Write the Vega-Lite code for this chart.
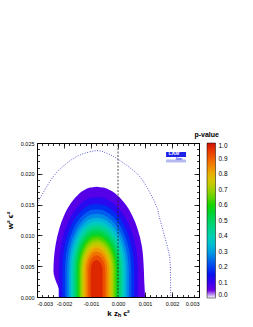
{
  "$schema": "https://vega.github.io/schema/vega-lite/v6.json",
  "width": 162,
  "height": 154,
  "autosize": {"type": "none"},
  "padding": {"left": 37, "top": 143, "right": 54, "bottom": 30},
  "background": "white",
  "config": {
    "view": {"stroke": "#000", "strokeWidth": 1},
    "axis": {"grid": false, "domain": false, "tickColor": "#000", "labelColor": "#000", "labelFont": "Liberation Sans", "labelFontSize": 5.5, "titleFont": "Liberation Sans", "titleColor": "#000", "zindex": 1, "tickWidth": 0.8}
  },
  "datasets": {
    "contours": [
      {"l": "0.05", "c": 0.075, "y": 0, "a": -0.00215, "b": 0.001},
      {"l": "0.05", "c": 0.075, "y": 0.0012, "a": -0.00218, "b": 0.00099},
      {"l": "0.05", "c": 0.075, "y": 0.0028, "a": -0.00232, "b": 0.00097},
      {"l": "0.05", "c": 0.075, "y": 0.0042, "a": -0.00239, "b": 0.00096},
      {"l": "0.05", "c": 0.075, "y": 0.008311, "a": -0.002317, "b": 0.000881},
      {"l": "0.05", "c": 0.075, "y": 0.011052, "a": -0.002177, "b": 0.000726},
      {"l": "0.05", "c": 0.075, "y": 0.013107, "a": -0.002009, "b": 0.000539},
      {"l": "0.05", "c": 0.075, "y": 0.015162, "a": -0.001754, "b": 0.000257},
      {"l": "0.05", "c": 0.075, "y": 0.016533, "a": -0.001493, "b": -0.000032},
      {"l": "0.05", "c": 0.075, "y": 0.017355, "a": -0.001245, "b": -0.000307},
      {"l": "0.05", "c": 0.075, "y": 0.017766, "a": -0.001024, "b": -0.000552},
      {"l": "0.05", "c": 0.075, "y": 0.017903, "a": -0.0008, "b": -0.0008},

      {"l": "0.10", "c": 0.125, "y": 0, "a": -0.002195, "b": 0.000745},
      {"l": "0.10", "c": 0.125, "y": 0.0042, "a": -0.002195, "b": 0.000745},
      {"l": "0.10", "c": 0.125, "y": 0.007805, "a": -0.002131, "b": 0.000674},
      {"l": "0.10", "c": 0.125, "y": 0.010209, "a": -0.002008, "b": 0.000538},
      {"l": "0.10", "c": 0.125, "y": 0.012012, "a": -0.00186, "b": 0.000374},
      {"l": "0.10", "c": 0.125, "y": 0.013814, "a": -0.001637, "b": 0.000127},
      {"l": "0.10", "c": 0.125, "y": 0.015016, "a": -0.001408, "b": -0.000126},
      {"l": "0.10", "c": 0.125, "y": 0.015737, "a": -0.001191, "b": -0.000367},
      {"l": "0.10", "c": 0.125, "y": 0.016098, "a": -0.000997, "b": -0.000582},
      {"l": "0.10", "c": 0.125, "y": 0.016218, "a": -0.0008, "b": -0.0008},

      {"l": "0.15", "c": 0.175, "y": 0, "a": -0.002066, "b": 0.000603},
      {"l": "0.15", "c": 0.175, "y": 0.0042, "a": -0.002066, "b": 0.000603},
      {"l": "0.15", "c": 0.175, "y": 0.007473, "a": -0.002008, "b": 0.000538},
      {"l": "0.15", "c": 0.175, "y": 0.009655, "a": -0.001897, "b": 0.000415},
      {"l": "0.15", "c": 0.175, "y": 0.011291, "a": -0.001762, "b": 0.000266},
      {"l": "0.15", "c": 0.175, "y": 0.012927, "a": -0.00156, "b": 0.000042},
      {"l": "0.15", "c": 0.175, "y": 0.014018, "a": -0.001352, "b": -0.000188},
      {"l": "0.15", "c": 0.175, "y": 0.014673, "a": -0.001155, "b": -0.000407},
      {"l": "0.15", "c": 0.175, "y": 0.015, "a": -0.000979, "b": -0.000602},
      {"l": "0.15", "c": 0.175, "y": 0.015109, "a": -0.0008, "b": -0.0008},

      {"l": "0.20", "c": 0.225, "y": 0, "a": -0.001966, "b": 0.000492},
      {"l": "0.20", "c": 0.225, "y": 0.0042, "a": -0.001966, "b": 0.000492},
      {"l": "0.20", "c": 0.225, "y": 0.007214, "a": -0.001912, "b": 0.000432},
      {"l": "0.20", "c": 0.225, "y": 0.009223, "a": -0.00181, "b": 0.000319},
      {"l": "0.20", "c": 0.225, "y": 0.01073, "a": -0.001686, "b": 0.000182},
      {"l": "0.20", "c": 0.225, "y": 0.012237, "a": -0.0015, "b": -0.000025},
      {"l": "0.20", "c": 0.225, "y": 0.013241, "a": -0.001308, "b": -0.000237},
      {"l": "0.20", "c": 0.225, "y": 0.013844, "a": -0.001127, "b": -0.000438},
      {"l": "0.20", "c": 0.225, "y": 0.014146, "a": -0.000964, "b": -0.000618},
      {"l": "0.20", "c": 0.225, "y": 0.014246, "a": -0.0008, "b": -0.0008},

      {"l": "0.25", "c": 0.275, "y": 0, "a": -0.001882, "b": 0.000399},
      {"l": "0.25", "c": 0.275, "y": 0.0042, "a": -0.001882, "b": 0.000399},
      {"l": "0.25", "c": 0.275, "y": 0.006997, "a": -0.001833, "b": 0.000344},
      {"l": "0.25", "c": 0.275, "y": 0.008862, "a": -0.001737, "b": 0.000238},
      {"l": "0.25", "c": 0.275, "y": 0.010261, "a": -0.001623, "b": 0.000111},
      {"l": "0.25", "c": 0.275, "y": 0.011659, "a": -0.001449, "b": -0.000081},
      {"l": "0.25", "c": 0.275, "y": 0.012592, "a": -0.001272, "b": -0.000277},
      {"l": "0.25", "c": 0.275, "y": 0.013151, "a": -0.001103, "b": -0.000464},
      {"l": "0.25", "c": 0.275, "y": 0.013431, "a": -0.000953, "b": -0.000631},
      {"l": "0.25", "c": 0.275, "y": 0.013524, "a": -0.0008, "b": -0.0008},

      {"l": "0.30", "c": 0.325, "y": 0, "a": -0.001809, "b": 0.000317},
      {"l": "0.30", "c": 0.325, "y": 0.0042, "a": -0.001809, "b": 0.000317},
      {"l": "0.30", "c": 0.325, "y": 0.006807, "a": -0.001762, "b": 0.000266},
      {"l": "0.30", "c": 0.325, "y": 0.008546, "a": -0.001674, "b": 0.000168},
      {"l": "0.30", "c": 0.325, "y": 0.009849, "a": -0.001567, "b": 0.000049},
      {"l": "0.30", "c": 0.325, "y": 0.011153, "a": -0.001405, "b": -0.00013},
      {"l": "0.30", "c": 0.325, "y": 0.012022, "a": -0.00124, "b": -0.000313},
      {"l": "0.30", "c": 0.325, "y": 0.012543, "a": -0.001082, "b": -0.000487},
      {"l": "0.30", "c": 0.325, "y": 0.012804, "a": -0.000942, "b": -0.000642},
      {"l": "0.30", "c": 0.325, "y": 0.012891, "a": -0.0008, "b": -0.0008},

      {"l": "0.35", "c": 0.375, "y": 0, "a": -0.001742, "b": 0.000243},
      {"l": "0.35", "c": 0.375, "y": 0.0042, "a": -0.001742, "b": 0.000243},
      {"l": "0.35", "c": 0.375, "y": 0.006634, "a": -0.001699, "b": 0.000195},
      {"l": "0.35", "c": 0.375, "y": 0.008257, "a": -0.001616, "b": 0.000104},
      {"l": "0.35", "c": 0.375, "y": 0.009474, "a": -0.001516, "b": -0.000007},
      {"l": "0.35", "c": 0.375, "y": 0.010691, "a": -0.001365, "b": -0.000174},
      {"l": "0.35", "c": 0.375, "y": 0.011503, "a": -0.001211, "b": -0.000345},
      {"l": "0.35", "c": 0.375, "y": 0.011989, "a": -0.001064, "b": -0.000508},
      {"l": "0.35", "c": 0.375, "y": 0.012233, "a": -0.000933, "b": -0.000653},
      {"l": "0.35", "c": 0.375, "y": 0.012314, "a": -0.0008, "b": -0.0008},

      {"l": "0.40", "c": 0.425, "y": 0, "a": -0.00168, "b": 0.000175},
      {"l": "0.40", "c": 0.425, "y": 0.0042, "a": -0.00168, "b": 0.000175},
      {"l": "0.40", "c": 0.425, "y": 0.006475, "a": -0.00164, "b": 0.00013},
      {"l": "0.40", "c": 0.425, "y": 0.007991, "a": -0.001562, "b": 0.000044},
      {"l": "0.40", "c": 0.425, "y": 0.009128, "a": -0.001469, "b": -0.000059},
      {"l": "0.40", "c": 0.425, "y": 0.010266, "a": -0.001328, "b": -0.000215},
      {"l": "0.40", "c": 0.425, "y": 0.011024, "a": -0.001184, "b": -0.000375},
      {"l": "0.40", "c": 0.425, "y": 0.011479, "a": -0.001046, "b": -0.000527},
      {"l": "0.40", "c": 0.425, "y": 0.011706, "a": -0.000924, "b": -0.000663},
      {"l": "0.40", "c": 0.425, "y": 0.011782, "a": -0.0008, "b": -0.0008},

      {"l": "0.45", "c": 0.475, "y": 0, "a": -0.001622, "b": 0.00011},
      {"l": "0.45", "c": 0.475, "y": 0.0042, "a": -0.001622, "b": 0.00011},
      {"l": "0.45", "c": 0.475, "y": 0.006323, "a": -0.001584, "b": 0.000068},
      {"l": "0.45", "c": 0.475, "y": 0.007739, "a": -0.001512, "b": -0.000012},
      {"l": "0.45", "c": 0.475, "y": 0.008801, "a": -0.001424, "b": -0.000108},
      {"l": "0.45", "c": 0.475, "y": 0.009862, "a": -0.001293, "b": -0.000254},
      {"l": "0.45", "c": 0.475, "y": 0.01057, "a": -0.001158, "b": -0.000403},
      {"l": "0.45", "c": 0.475, "y": 0.010995, "a": -0.00103, "b": -0.000545},
      {"l": "0.45", "c": 0.475, "y": 0.011207, "a": -0.000916, "b": -0.000672},
      {"l": "0.45", "c": 0.475, "y": 0.011278, "a": -0.0008, "b": -0.0008},

      {"l": "0.50", "c": 0.525, "y": 0, "a": -0.001565, "b": 0.000047},
      {"l": "0.50", "c": 0.525, "y": 0.0042, "a": -0.001565, "b": 0.000047},
      {"l": "0.50", "c": 0.525, "y": 0.006177, "a": -0.00153, "b": 0.000008},
      {"l": "0.50", "c": 0.525, "y": 0.007496, "a": -0.001462, "b": -0.000066},
      {"l": "0.50", "c": 0.525, "y": 0.008484, "a": -0.001381, "b": -0.000156},
      {"l": "0.50", "c": 0.525, "y": 0.009473, "a": -0.001259, "b": -0.000292},
      {"l": "0.50", "c": 0.525, "y": 0.010132, "a": -0.001134, "b": -0.000431},
      {"l": "0.50", "c": 0.525, "y": 0.010527, "a": -0.001014, "b": -0.000563},
      {"l": "0.50", "c": 0.525, "y": 0.010725, "a": -0.000908, "b": -0.000681},
      {"l": "0.50", "c": 0.525, "y": 0.010791, "a": -0.0008, "b": -0.0008},

      {"l": "0.55", "c": 0.575, "y": 0, "a": -0.001511, "b": -0.000013},
      {"l": "0.55", "c": 0.575, "y": 0.0042, "a": -0.001511, "b": -0.000013},
      {"l": "0.55", "c": 0.575, "y": 0.006036, "a": -0.001478, "b": -0.000049},
      {"l": "0.55", "c": 0.575, "y": 0.007261, "a": -0.001415, "b": -0.000118},
      {"l": "0.55", "c": 0.575, "y": 0.008179, "a": -0.00134, "b": -0.000202},
      {"l": "0.55", "c": 0.575, "y": 0.009097, "a": -0.001226, "b": -0.000328},
      {"l": "0.55", "c": 0.575, "y": 0.009709, "a": -0.00111, "b": -0.000457},
      {"l": "0.55", "c": 0.575, "y": 0.010076, "a": -0.000999, "b": -0.00058},
      {"l": "0.55", "c": 0.575, "y": 0.01026, "a": -0.0009, "b": -0.000689},
      {"l": "0.55", "c": 0.575, "y": 0.010321, "a": -0.0008, "b": -0.0008},

      {"l": "0.60", "c": 0.625, "y": 0, "a": -0.001457, "b": -0.000072},
      {"l": "0.60", "c": 0.625, "y": 0.0042, "a": -0.001457, "b": -0.000072},
      {"l": "0.60", "c": 0.625, "y": 0.005899, "a": -0.001427, "b": -0.000105},
      {"l": "0.60", "c": 0.625, "y": 0.007031, "a": -0.001369, "b": -0.00017},
      {"l": "0.60", "c": 0.625, "y": 0.00788, "a": -0.001299, "b": -0.000247},
      {"l": "0.60", "c": 0.625, "y": 0.00873, "a": -0.001194, "b": -0.000363},
      {"l": "0.60", "c": 0.625, "y": 0.009296, "a": -0.001086, "b": -0.000483},
      {"l": "0.60", "c": 0.625, "y": 0.009636, "a": -0.000984, "b": -0.000596},
      {"l": "0.60", "c": 0.625, "y": 0.009805, "a": -0.000893, "b": -0.000697},
      {"l": "0.60", "c": 0.625, "y": 0.009862, "a": -0.0008, "b": -0.0008},

      {"l": "0.65", "c": 0.675, "y": 0, "a": -0.001403, "b": -0.000132},
      {"l": "0.65", "c": 0.675, "y": 0.0042, "a": -0.001403, "b": -0.000132},
      {"l": "0.65", "c": 0.675, "y": 0.005759, "a": -0.001375, "b": -0.000163},
      {"l": "0.65", "c": 0.675, "y": 0.006799, "a": -0.001322, "b": -0.000221},
      {"l": "0.65", "c": 0.675, "y": 0.007578, "a": -0.001258, "b": -0.000292},
      {"l": "0.65", "c": 0.675, "y": 0.008358, "a": -0.001162, "b": -0.000399},
      {"l": "0.65", "c": 0.675, "y": 0.008877, "a": -0.001063, "b": -0.000509},
      {"l": "0.65", "c": 0.675, "y": 0.009189, "a": -0.000969, "b": -0.000613},
      {"l": "0.65", "c": 0.675, "y": 0.009345, "a": -0.000885, "b": -0.000706},
      {"l": "0.65", "c": 0.675, "y": 0.009397, "a": -0.0008, "b": -0.0008},

      {"l": "0.70", "c": 0.725, "y": 0, "a": -0.001349, "b": -0.000192},
      {"l": "0.70", "c": 0.725, "y": 0.0042, "a": -0.001349, "b": -0.000192},
      {"l": "0.70", "c": 0.725, "y": 0.00562, "a": -0.001324, "b": -0.00022},
      {"l": "0.70", "c": 0.725, "y": 0.006566, "a": -0.001275, "b": -0.000273},
      {"l": "0.70", "c": 0.725, "y": 0.007276, "a": -0.001217, "b": -0.000338},
      {"l": "0.70", "c": 0.725, "y": 0.007986, "a": -0.001129, "b": -0.000435},
      {"l": "0.70", "c": 0.725, "y": 0.008459, "a": -0.001039, "b": -0.000535},
      {"l": "0.70", "c": 0.725, "y": 0.008743, "a": -0.000954, "b": -0.00063},
      {"l": "0.70", "c": 0.725, "y": 0.008885, "a": -0.000877, "b": -0.000714},
      {"l": "0.70", "c": 0.725, "y": 0.008932, "a": -0.0008, "b": -0.0008},

      {"l": "0.75", "c": 0.775, "y": 0, "a": -0.001293, "b": -0.000254},
      {"l": "0.75", "c": 0.775, "y": 0.0042, "a": -0.001293, "b": -0.000254},
      {"l": "0.75", "c": 0.775, "y": 0.005474, "a": -0.00127, "b": -0.000279},
      {"l": "0.75", "c": 0.775, "y": 0.006323, "a": -0.001227, "b": -0.000327},
      {"l": "0.75", "c": 0.775, "y": 0.006959, "a": -0.001174, "b": -0.000385},
      {"l": "0.75", "c": 0.775, "y": 0.007596, "a": -0.001096, "b": -0.000473},
      {"l": "0.75", "c": 0.775, "y": 0.008021, "a": -0.001015, "b": -0.000562},
      {"l": "0.75", "c": 0.775, "y": 0.008275, "a": -0.000938, "b": -0.000647},
      {"l": "0.75", "c": 0.775, "y": 0.008403, "a": -0.000869, "b": -0.000723},
      {"l": "0.75", "c": 0.775, "y": 0.008445, "a": -0.0008, "b": -0.0008},

      {"l": "0.80", "c": 0.825, "y": 0, "a": -0.001234, "b": -0.000319},
      {"l": "0.80", "c": 0.825, "y": 0.0042, "a": -0.001234, "b": -0.000319},
      {"l": "0.80", "c": 0.825, "y": 0.005322, "a": -0.001214, "b": -0.000341},
      {"l": "0.80", "c": 0.825, "y": 0.006071, "a": -0.001176, "b": -0.000383},
      {"l": "0.80", "c": 0.825, "y": 0.006632, "a": -0.00113, "b": -0.000434},
      {"l": "0.80", "c": 0.825, "y": 0.007193, "a": -0.00106, "b": -0.000511},
      {"l": "0.80", "c": 0.825, "y": 0.007567, "a": -0.000989, "b": -0.00059},
      {"l": "0.80", "c": 0.825, "y": 0.007791, "a": -0.000922, "b": -0.000665},
      {"l": "0.80", "c": 0.825, "y": 0.007904, "a": -0.000861, "b": -0.000732},
      {"l": "0.80", "c": 0.825, "y": 0.007941, "a": -0.0008, "b": -0.0008},

      {"l": "0.85", "c": 0.875, "y": 0, "a": -0.001171, "b": -0.00039},
      {"l": "0.85", "c": 0.875, "y": 0.0042, "a": -0.001171, "b": -0.00039},
      {"l": "0.85", "c": 0.875, "y": 0.005158, "a": -0.001153, "b": -0.000408},
      {"l": "0.85", "c": 0.875, "y": 0.005796, "a": -0.001121, "b": -0.000445},
      {"l": "0.85", "c": 0.875, "y": 0.006275, "a": -0.001082, "b": -0.000488},
      {"l": "0.85", "c": 0.875, "y": 0.006754, "a": -0.001022, "b": -0.000554},
      {"l": "0.85", "c": 0.875, "y": 0.007073, "a": -0.000962, "b": -0.000621},
      {"l": "0.85", "c": 0.875, "y": 0.007264, "a": -0.000904, "b": -0.000685},
      {"l": "0.85", "c": 0.875, "y": 0.00736, "a": -0.000852, "b": -0.000742},
      {"l": "0.85", "c": 0.875, "y": 0.007392, "a": -0.0008, "b": -0.0008},

      {"l": "0.90", "c": 0.925, "y": 0, "a": -0.001098, "b": -0.00047},
      {"l": "0.90", "c": 0.925, "y": 0.0042, "a": -0.001098, "b": -0.00047},
      {"l": "0.90", "c": 0.925, "y": 0.004971, "a": -0.001084, "b": -0.000485},
      {"l": "0.90", "c": 0.925, "y": 0.005485, "a": -0.001058, "b": -0.000514},
      {"l": "0.90", "c": 0.925, "y": 0.005871, "a": -0.001026, "b": -0.000549},
      {"l": "0.90", "c": 0.925, "y": 0.006256, "a": -0.000979, "b": -0.000602},
      {"l": "0.90", "c": 0.925, "y": 0.006513, "a": -0.00093, "b": -0.000656},
      {"l": "0.90", "c": 0.925, "y": 0.006667, "a": -0.000883, "b": -0.000708},
      {"l": "0.90", "c": 0.925, "y": 0.006744, "a": -0.000842, "b": -0.000753},
      {"l": "0.90", "c": 0.925, "y": 0.00677, "a": -0.0008, "b": -0.0008},

      {"l": "0.95", "c": 0.975, "y": 0, "a": -0.001008, "b": -0.00057},
      {"l": "0.95", "c": 0.975, "y": 0.0042, "a": -0.001008, "b": -0.00057},
      {"l": "0.95", "c": 0.975, "y": 0.005096, "a": -0.00098, "b": -0.000601},
      {"l": "0.95", "c": 0.975, "y": 0.005634, "a": -0.000925, "b": -0.000662},
      {"l": "0.95", "c": 0.975, "y": 0.00592, "a": -0.000858, "b": -0.000736},
      {"l": "0.95", "c": 0.975, "y": 0.005992, "a": -0.0008, "b": -0.0008}
    ],
    "curve": [
      {"i": 0, "x": -0.00295, "y": 0.0153},
      {"i": 1, "x": -0.00289, "y": 0.016},
      {"i": 2, "x": -0.0024, "y": 0.01953},
      {"i": 3, "x": -0.0019, "y": 0.0217},
      {"i": 4, "x": -0.00141, "y": 0.02305},
      {"i": 5, "x": -0.00079, "y": 0.02375},
      {"i": 6, "x": -0.0004, "y": 0.0233},
      {"i": 7, "x": 0, "y": 0.02235},
      {"i": 8, "x": 0.00069, "y": 0.02008},
      {"i": 9, "x": 0.00106, "y": 0.0179},
      {"i": 10, "x": 0.00143, "y": 0.01466},
      {"i": 11, "x": 0.00156, "y": 0.0125},
      {"i": 12, "x": 0.00186, "y": 0.00763},
      {"i": 13, "x": 0.00193, "y": 0.0055},
      {"i": 14, "x": 0.00195, "y": 0.002},
      {"i": 15, "x": 0.00195, "y": 0}
    ]
  },
  "layer": [
    {
      "data": {"name": "contours"},
      "mark": {"type": "area", "orient": "horizontal", "interpolate": "monotone"},
      "encoding": {
        "y": {"field": "y", "type": "quantitative", "scale": {"domain": [0, 0.025], "nice": false, "zero": false},
          "axis": {"orient": "left", "values": [0, 0.005, 0.01, 0.015, 0.02, 0.025], "format": ".3f", "tickSize": -5, "labelPadding": 8, "title": "w² ϵ²", "titleFontSize": 8, "titleFontWeight": "bold", "titlePadding": 6}},
        "x": {"field": "a", "type": "quantitative", "scale": {"domain": [-0.003, 0.003], "nice": false, "zero": false},
          "axis": {"orient": "bottom", "values": [-0.003, -0.002, -0.001, 0, 0.001, 0.002, 0.003], "format": ".3f", "labelExpr": "replace(datum.label, '\u2212', '-')", "tickSize": -5, "labelPadding": 9, "title": "k zₕ ϵ²", "titleFontSize": 8, "titleFontWeight": "bold", "titlePadding": 3}},
        "x2": {"field": "b"},
        "detail": {"field": "l", "type": "nominal"},
        "color": {"field": "c", "type": "quantitative",
          "scale": {"domain": [0, 0.0499, 0.05, 0.1, 0.15, 0.2, 0.25, 0.3, 0.35, 0.4, 0.45, 0.5, 0.55, 0.6, 0.65, 0.7, 0.75, 0.8, 0.85, 0.9, 0.95, 1],
            "range": ["#ffffff", "#ffffff", "#6a00e0", "#3800f0", "#0a10f0", "#0040f0", "#0070e8", "#00a0e0", "#00c0d0", "#00d0b0", "#00d488", "#00d460", "#00d430", "#18d400", "#60d400", "#a0d000", "#d0c800", "#e8b000", "#f08800", "#f06000", "#e83800", "#d01000"]},
          "legend": {"orient": "none", "legendX": 170, "legendY": 0, "direction": "vertical", "title": null, "padding": 0, "gradientLength": 155, "gradientThickness": 8.5, "values": [0, 0.1, 0.2, 0.3, 0.4, 0.5, 0.6, 0.7, 0.8, 0.9, 1], "format": ".1f", "labelFontSize": 6.5, "labelFont": "Liberation Sans", "labelColor": "#000", "labelOffset": 3, "labelOverlap": false, "gradientStrokeColor": "#000", "gradientStrokeWidth": 0.5}}
      }
    },
    {
      "data": {"name": "curve"},
      "mark": {"type": "line", "interpolate": "cardinal", "stroke": "#5a5ad2", "strokeWidth": 1, "strokeDash": [1, 1.5]},
      "encoding": {
        "x": {"field": "x", "type": "quantitative", "scale": {"domain": [-0.003, 0.003], "nice": false, "zero": false},
          "axis": {"orient": "top", "values": [-0.003, -0.002, -0.001, 0, 0.001, 0.002, 0.003], "labels": false, "tickSize": -5, "title": null}},
        "y": {"field": "y", "type": "quantitative", "scale": {"domain": [0, 0.025], "nice": false, "zero": false},
          "axis": {"orient": "right", "values": [0, 0.005, 0.01, 0.015, 0.02, 0.025], "labels": false, "tickSize": -5, "title": null}},
        "order": {"field": "i", "type": "quantitative"}
      }
    },
    {
      "data": {"values": [{"x": 0, "y": 0, "y2": 0.025}]},
      "mark": {"type": "rule", "stroke": "#222", "strokeWidth": 0.8, "strokeDash": [2, 1.5]},
      "encoding": {
        "x": {"field": "x", "type": "quantitative",
          "axis": {"orient": "bottom", "values": [-0.003, -0.0028, -0.0026, -0.0024, -0.0022, -0.002, -0.0018, -0.0016, -0.0014, -0.0012, -0.001, -0.0008, -0.0006, -0.0004, -0.0002, 0, 0.0002, 0.0004, 0.0006, 0.0008, 0.001, 0.0012, 0.0014, 0.0016, 0.0018, 0.002, 0.0022, 0.0024, 0.0026, 0.0028, 0.003], "labels": false, "tickSize": -2.5, "title": null}},
        "y": {"field": "y", "type": "quantitative",
          "axis": {"orient": "left", "values": [0, 0.001, 0.002, 0.003, 0.004, 0.005, 0.006, 0.007, 0.008, 0.009, 0.01, 0.011, 0.012, 0.013, 0.014, 0.015, 0.016, 0.017, 0.018, 0.019, 0.02, 0.021, 0.022, 0.023, 0.024, 0.025], "labels": false, "tickSize": -2.5, "title": null}},
        "y2": {"field": "y2"}
      }
    },
    {
      "data": {"values": [{"x": 0.00178, "x2": 0.00252, "y": 0.02273, "y2": 0.02354}]},
      "mark": {"type": "rect", "fill": "#1e22e6"},
      "encoding": {
        "x": {"field": "x", "type": "quantitative",
          "axis": {"orient": "top", "values": [-0.003, -0.0028, -0.0026, -0.0024, -0.0022, -0.002, -0.0018, -0.0016, -0.0014, -0.0012, -0.001, -0.0008, -0.0006, -0.0004, -0.0002, 0, 0.0002, 0.0004, 0.0006, 0.0008, 0.001, 0.0012, 0.0014, 0.0016, 0.0018, 0.002, 0.0022, 0.0024, 0.0026, 0.0028, 0.003], "labels": false, "tickSize": -2.5, "title": null}},
        "x2": {"field": "x2"},
        "y": {"field": "y", "type": "quantitative",
          "axis": {"orient": "right", "values": [0, 0.001, 0.002, 0.003, 0.004, 0.005, 0.006, 0.007, 0.008, 0.009, 0.01, 0.011, 0.012, 0.013, 0.014, 0.015, 0.016, 0.017, 0.018, 0.019, 0.02, 0.021, 0.022, 0.023, 0.024, 0.025], "labels": false, "tickSize": -2.5, "title": null}},
        "y2": {"field": "y2"}
      }
    },
    {
      "data": {"values": [{"x": 0.00178, "x2": 0.00252, "y": 0.02184, "y2": 0.02232}]},
      "mark": {"type": "rect", "fill": "#b4baf0"},
      "encoding": {
        "x": {"field": "x", "type": "quantitative", "axis": null},
        "x2": {"field": "x2"},
        "y": {"field": "y", "type": "quantitative", "axis": null},
        "y2": {"field": "y2"}
      }
    },
    {
      "data": {"values": [{"t": "CKM", "x": 0.00207, "y": 0.02318}]},
      "mark": {"type": "text", "fill": "white", "font": "Liberation Sans", "fontSize": 4.8, "fontWeight": "bold", "fontStyle": "italic", "baseline": "middle", "align": "center"},
      "encoding": {
        "x": {"field": "x", "type": "quantitative", "axis": null},
        "y": {"field": "y", "type": "quantitative", "axis": null},
        "text": {"field": "t"}
      }
    },
    {
      "data": {"values": [{"t": "fitter", "x": 0.00226, "y": 0.02248}]},
      "mark": {"type": "text", "fill": "#1e22e6", "font": "Liberation Sans", "fontSize": 3, "fontWeight": "bold", "baseline": "middle", "align": "center"},
      "encoding": {
        "x": {"field": "x", "type": "quantitative", "axis": null},
        "y": {"field": "y", "type": "quantitative", "axis": null},
        "text": {"field": "t"}
      }
    },
    {
      "data": {"values": [{"t": "p-value", "x": 0.003285, "y": 0.0259}]},
      "mark": {"type": "text", "fill": "#000", "font": "Liberation Sans", "fontSize": 7, "fontWeight": "bold", "baseline": "alphabetic", "align": "center"},
      "encoding": {
        "x": {"field": "x", "type": "quantitative", "axis": null},
        "y": {"field": "y", "type": "quantitative", "axis": null},
        "text": {"field": "t"}
      }
    }
  ],
  "resolve": {"axis": {"x": "independent", "y": "independent"}}
}
